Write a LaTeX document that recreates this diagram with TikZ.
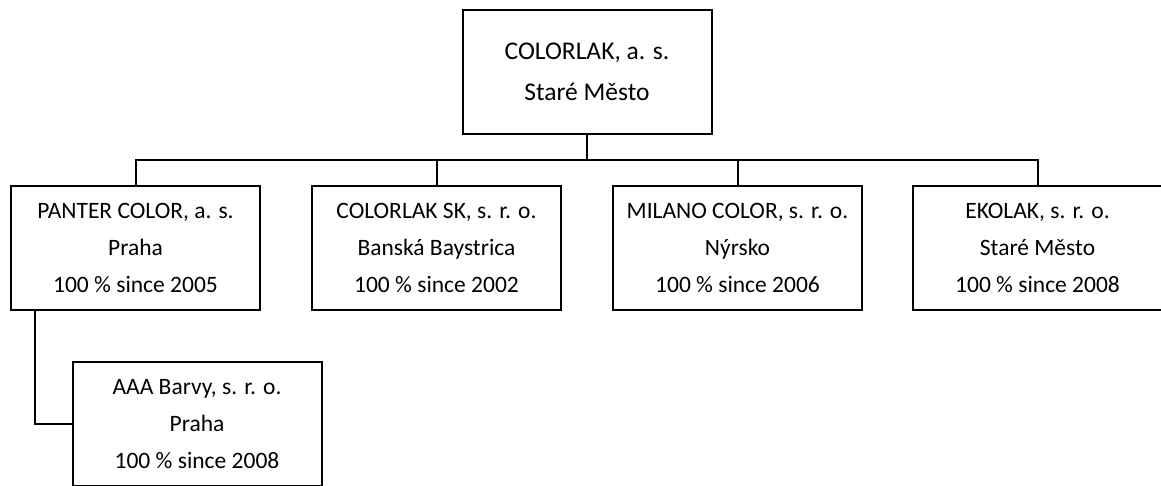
\documentclass[tikz,border=0pt]{standalone}
\usepackage{fontspec}
\setmainfont{Carlito}
\usetikzlibrary{positioning, calc}

\begin{document}
\begin{tikzpicture}[x=1pt, y=-1pt, line width=2pt,
   firm/.style={draw, minimum width=249pt, minimum height=124pt, inner sep=0pt, align=center,
     font=\fontsize{23.5}{37}\selectfont},
   link/.style={draw, line cap=rect}]
  \useasboundingbox (0,0) rectangle (1161,485);
  \clip (0,0) rectangle (1161,485);
  \node[firm, font=\fontsize{25.5}{41}\selectfont] (parent) at (587,71.5) {COLORLAK, a. s.\\Staré Město};
  \node[firm] (panter) at (135.5,248) {PANTER COLOR, a. s.\\Praha\\100 \% since 2005};
  \node[firm] (colsk) at (436.5,248) {COLORLAK SK, s. r. o.\\Banská Baystrica\\100 \% since 2002};
  \node[firm] (milano) at (737.5,248) {MILANO COLOR, s. r. o.\\Nýrsko\\100 \% since 2006};
  \node[firm] (ekolak) at (1037.5,248) {EKOLAK, s. r. o.\\Staré Město\\100 \% since 2008};
  \node[firm] (aaa) at (197,424) {AAA Barvy, s. r. o.\\Praha\\100 \% since 2008};
  % bus between parent and daughters
  \coordinate (bus) at (587,160);
  \draw[link] (parent.south) -- (bus);
  \draw[link] (panter.north) |- (ekolak.north |- bus) -- (ekolak.north);
  \foreach \n in {colsk, milano}
    \draw[link] (bus -| \n.north) -- (\n.north);
  % sub-daughter
  \coordinate (drop) at ($(panter.south west)+(25,0)$);
  \draw[link] (drop) |- (aaa.west);
\end{tikzpicture}
\end{document}
